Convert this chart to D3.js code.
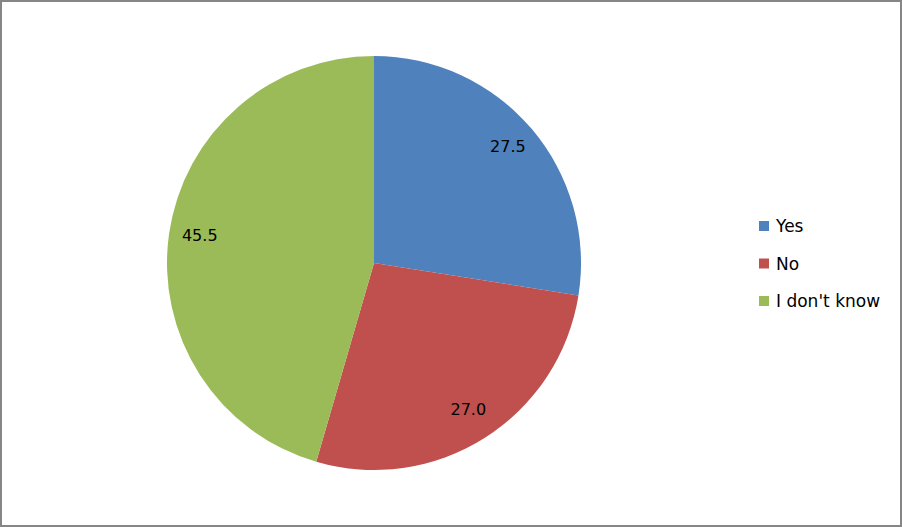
<html>
<head>
<meta charset="UTF-8">
<title>Pie</title>
<script src="https://cdn.jsdelivr.net/npm/d3@7"></script>
<style>
  body { margin:0; background:#fff; }
  text { font-family: "DejaVu Sans", sans-serif; }
</style>
</head>
<body>
<svg id="chart" width="902" height="527"></svg>
<script>
// data
var categories = ["Yes", "No", "I don't know"];
var values = [27.5, 27.0, 45.5];
var labels = ["27.5", "27.0", "45.5"];
var colors = ["#4F81BD", "#C0504D", "#9BBB59"];

var svg = d3.select("#chart");

// outer frame
svg.append("rect")
    .attr("x", 1).attr("y", 1)
    .attr("width", 900).attr("height", 525)
    .attr("fill", "#fff")
    .attr("stroke", "#868686")
    .attr("stroke-width", 2);

var cx = 374, cy = 263, R = 207;
var g = svg.append("g").attr("transform", "translate(" + cx + "," + cy + ")");

var pie = d3.pie().sort(null).value(function(d){ return d; });
var arcs = pie(values);
var arc = d3.arc().innerRadius(0).outerRadius(R);
var labelArc = d3.arc().innerRadius(176).outerRadius(176);

g.selectAll("path.slice")
    .data(arcs)
    .enter()
    .append("path")
    .attr("class", "slice")
    .attr("d", arc)
    .attr("fill", function(d, i){ return colors[i]; });

g.selectAll("text.lbl")
    .data(arcs)
    .enter()
    .append("text")
    .attr("class", "lbl")
    .attr("transform", function(d){ return "translate(" + labelArc.centroid(d) + ")"; })
    .attr("text-anchor", "middle")
    .attr("dy", "0.2em")
    .attr("font-size", 16)
    .attr("fill", "#000")
    .text(function(d, i){ return labels[i]; });

// legend
var legendY = d3.scalePoint().domain(categories).range([226, 301]);
var lg = svg.selectAll("g.leg")
    .data(categories)
    .enter()
    .append("g")
    .attr("class", "leg")
    .attr("transform", function(d){ return "translate(759," + legendY(d) + ")"; });

lg.append("rect")
    .attr("x", 0).attr("y", -5)
    .attr("width", 10).attr("height", 10)
    .attr("fill", function(d, i){ return colors[i]; });

lg.append("text")
    .attr("x", 17)
    .attr("dy", "0.36em")
    .attr("font-size", 17)
    .attr("fill", "#000")
    .text(function(d){ return d; });
</script>
</body>
</html>
